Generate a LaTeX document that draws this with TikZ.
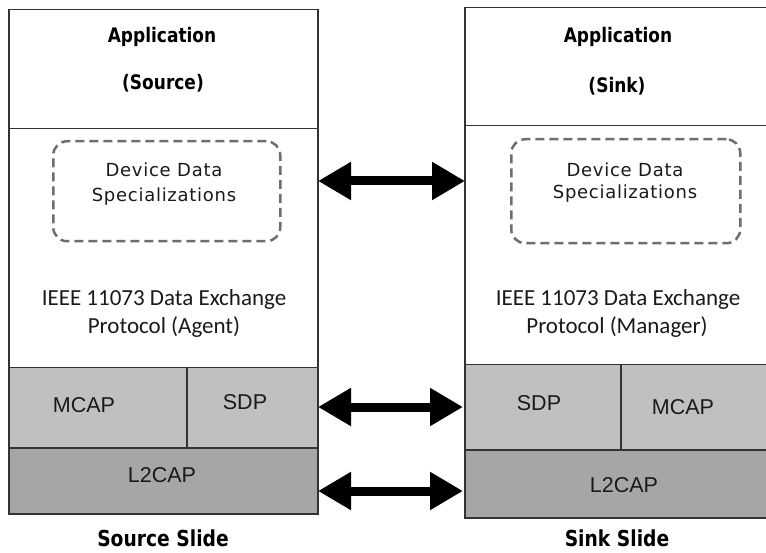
\documentclass[tikz,border=0pt]{standalone}
\usepackage{fontspec}
\setmainfont{Carlito}
\newfontfamily\hdrfont{DejaVu Sans}[FakeStretch=0.85]
\newfontfamily\ddsfont{DejaVu Sans}[LetterSpace=4]
\newfontfamily\arialfont{Liberation Sans}
\usetikzlibrary{arrows.meta}
\definecolor{layA}{HTML}{C0C0C0}
\definecolor{layB}{HTML}{A6A6A6}
\definecolor{edgec}{HTML}{333333}
\definecolor{dashc}{HTML}{6E6E6E}
\definecolor{txtc}{HTML}{1A1A1A}
\begin{document}
\begin{tikzpicture}[x=1pt,y=-1pt,
  box/.style={draw=edgec, line width=1.5pt, inner sep=0pt, anchor=north west},
  ddbox/.style={draw=dashc, line width=2.5pt, dash pattern=on 9pt off 5pt, rounded corners=14pt, inner sep=0pt, anchor=north west},
  hdr/.style={font=\hdrfont\bfseries\fontsize{20}{24}\selectfont, text=black, inner sep=0pt},
  foot/.style={font=\hdrfont\bfseries\fontsize{22}{26}\selectfont, text=black, inner sep=0pt},
  dds/.style={font=\ddsfont\fontsize{18}{22}\selectfont, text=txtc, inner sep=0pt},
  ieee/.style={font=\fontsize{23}{28}\selectfont, text=txtc, inner sep=0pt},
  lay/.style={font=\arialfont\fontsize{21.5}{26}\selectfont, text=txtc, inner sep=0pt},
  bigarrow/.style={line width=9pt, {Triangle[length=33pt,width=36pt]}-{Triangle[length=33pt,width=36pt]}}]
\useasboundingbox[fill=white] (0,0) rectangle (766,553);
\begin{scope}
\clip (0,0) rectangle (766,553);
% left column
\node[box, minimum width=309pt, minimum height=119pt] (appL) at (8,9) {};
\node[box, minimum width=309pt, minimum height=239pt] (bodyL) at (8,128) {};
\node[box, fill=layA, minimum width=178pt, minimum height=80pt] (mcapL) at (8,367) {};
\node[box, fill=layA, minimum width=131pt, minimum height=80pt] (sdpL) at (186,367) {};
\node[box, fill=layB, minimum width=309pt, minimum height=66pt] (l2L) at (8,447) {};
\node[ddbox, minimum width=227pt, minimum height=100pt] (ddL) at (52,140) {};
% right column
\node[box, minimum width=316pt, minimum height=118pt] (appR) at (464,7) {};
\node[box, minimum width=316pt, minimum height=239pt] (bodyR) at (464,125) {};
\node[box, fill=layA, minimum width=156pt, minimum height=85pt] (sdpR) at (464,364) {};
\node[box, fill=layA, minimum width=160pt, minimum height=85pt] (mcapR) at (620,364) {};
\node[box, fill=layB, minimum width=316pt, minimum height=68pt] (l2R) at (464,449) {};
\node[ddbox, minimum width=229pt, minimum height=104pt] (ddR) at (510,138) {};
\end{scope}
% texts left
\node[hdr] (tAppL) at (162,37) {Application};
\node[hdr] (tSrc) at (163,83) {(Source)};
\node[dds] (tDD1L) at (164,170) {Device Data};
\node[dds] (tDD2L) at (164,197) {Specializations};
\node[ieee] (tI1L) at (164,299) {IEEE 11073 Data Exchange};
\node[ieee] (tI2L) at (164,327) {Protocol (Agent)};
\node[lay] (tMcapL) at (84,405) {MCAP};
\node[lay] (tSdpL) at (245,402) {SDP};
\node[lay] (tL2L) at (162,475) {L2CAP};
\node[foot] (tFootL) at (163,538) {Source Slide};
% texts right
\node[hdr] (tAppR) at (618,37) {Application};
\node[hdr] (tSink) at (617,86) {(Sink)};
\node[dds] (tDD1R) at (625,170) {Device Data};
\node[dds] (tDD2R) at (625,194) {Specializations};
\node[ieee] (tI1R) at (618,299) {IEEE 11073 Data Exchange};
\node[ieee] (tI2R) at (617,327) {Protocol (Manager)};
\node[lay] (tSdpR) at (539,403) {SDP};
\node[lay] (tMcapR) at (683,407) {MCAP};
\node[lay] (tL2R) at (624,485) {L2CAP};
\node[foot] (tFootR) at (617,538) {Sink Slide};
% arrows
\coordinate (a1L) at (318,181);
\coordinate (a1R) at (465,181);
\coordinate (a2L) at (318,407);
\coordinate (a2R) at (463,407);
\coordinate (a3L) at (318,491);
\coordinate (a3R) at (463,491);
\draw[bigarrow] (a1L) -- (a1R);
\draw[bigarrow] (a2L) -- (a2R);
\draw[bigarrow] (a3L) -- (a3R);
\end{tikzpicture}
\end{document}
